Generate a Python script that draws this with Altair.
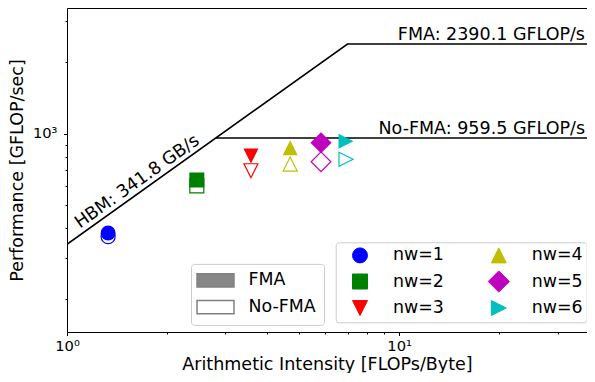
import altair as alt
import pandas as pd

# ---------------- data ----------------
workers = ["nw=1", "nw=2", "nw=3", "nw=4", "nw=5", "nw=6"]
intensity = [1.33, 2.46, 3.58, 4.70, 5.82, 6.92]          # FLOPs/Byte
perf_fma = [381, 638, 805, 873, 916, 930]                  # GFLOP/s
perf_nofma = [368, 603, 698, 745, 762, 780]                # GFLOP/s
colors = ["#0000ff", "#008000", "#ff0000", "#bfbf00", "#bf00bf", "#00bfbf"]

hbm_bw = 341.8          # GB/s
peak_fma = 2390.1       # GFLOP/s
peak_nofma = 959.5      # GFLOP/s
hbm_label_x = 1.694     # where the bandwidth label sits along the slope

x_range = [1, 36.8]
y_range = [145.7, 3392]
x_ticks = [1, 2, 3, 4, 5, 6, 7, 8, 9, 10, 20, 30]
y_ticks = [200, 300, 400, 500, 600, 700, 800, 900, 1000, 2000, 3000]
kinds = ["FMA", "No-FMA"]

# ---------------- styles ----------------
FONT = "DejaVu Sans"
shapes = [
    "circle",
    "M-1,-1H1V1H-1Z",
    "M-1,-1L1,-1L0,1Z",
    "M0,-1L1,1L-1,1Z",
    "M0,-1.41L1.41,0L0,1.41L-1.41,0Z",
    "M-1,-1L1,0L-1,1Z",
]
PATCH = "M-2.64,-0.96H2.64V0.96H-2.64Z"

# ---------------- tables ----------------
pts_fma = pd.DataFrame({"nw": workers, "ai": intensity, "perf": perf_fma})
pts_nofma = pd.DataFrame({"nw": workers, "ai": intensity, "perf": perf_nofma})

ridge_fma = peak_fma / hbm_bw
ridge_nofma = peak_nofma / hbm_bw
roof = pd.DataFrame({
    "roof": ["FMA", "FMA", "FMA", "No-FMA", "No-FMA"],
    "x": [x_range[0], ridge_fma, x_range[1], ridge_nofma, x_range[1]],
    "y": [hbm_bw * x_range[0], peak_fma, peak_fma, peak_nofma, peak_nofma],
})
peaks = pd.DataFrame({
    "x": [x_range[1], x_range[1]],
    "y": [peak_fma, peak_nofma],
    "label": [f"FMA: {peak_fma} GFLOP/s", f"No-FMA: {peak_nofma} GFLOP/s"],
})
bw = pd.DataFrame({"x": [hbm_label_x], "y": [hbm_bw * hbm_label_x],
                   "label": [f"HBM: {hbm_bw} GB/s"]})
kind_df = pd.DataFrame({"kind": kinds})

# ---------------- scales / axes ----------------
xs = alt.Scale(type="log", domain=x_range)
ys = alt.Scale(type="log", domain=y_range)

common_axis = dict(
    domainColor="black", domainWidth=1, tickColor="black", tickWidth=1,
    labelFont=FONT, labelFontSize=14.7, labelColor="black",
    titleFont=FONT, titleFontSize=17.5, titleFontWeight="normal", titleColor="black",
    grid=False, labelOverlap=False, labelFlush=False,
)
x_axis = alt.Axis(
    orient="bottom", values=x_ticks, title="Arithmetic Intensity [FLOPs/Byte]",
    labelExpr="datum.value == 1 ? '10⁰' : (datum.value == 10 ? '10¹' : '')",
    labelPadding=3,
    tickSize={"condition": {"test": "datum.value == 1 || datum.value == 10", "value": 3.5}, "value": 2},
    titleY=37, titleBaseline="alphabetic", **common_axis,
)
y_axis = alt.Axis(
    orient="left", values=y_ticks, title="Performance [GFLOP/sec]",
    labelExpr="datum.value == 1000 ? '10³' : ''",
    labelPadding=6.5,
    tickSize={"condition": {"test": "datum.value == 1000", "value": 3.5}, "value": 2},
    titleX=-50, titleBaseline="middle", **common_axis,
)
top_axis = alt.Axis(orient="top", labels=False, ticks=False, title=None, grid=False,
                    domain=True, domainColor="black", domainWidth=1)

color_legend = alt.Legend(
    title=None, orient="none", legendX=268.7, legendY=234.3, columns=2,
    padding=4, symbolOffset=11.6, labelOffset=24.3, columnPadding=33.8, rowPadding=3.5,
    labelFont=FONT, labelFontSize=17.4, labelColor="black", symbolSize=225,
    fillColor="white", strokeColor="#cccccc", cornerRadius=3, symbolStrokeWidth=1,
)
kind_legend = alt.Legend(
    title=None, orient="none", legendX=124, legendY=255.9,
    padding=7.8, symbolOffset=8, labelOffset=24.3, rowPadding=5.7,
    labelFont=FONT, labelFontSize=17.4, labelColor="black", symbolSize=196,
    symbolType=PATCH, symbolOpacity=1, symbolStrokeColor="#808080", symbolStrokeWidth=1.5,
    fillColor="white", strokeColor="#cccccc", cornerRadius=3,
)

color_enc = alt.Color("nw:N", scale=alt.Scale(domain=workers, range=colors), legend=color_legend)
shape_enc = alt.Shape("nw:N", scale=alt.Scale(domain=workers, range=shapes), legend=color_legend)

lines = alt.Chart(roof).mark_line(color="black", strokeWidth=1.6, clip=True).encode(
    x=alt.X("x:Q", scale=xs, axis=x_axis),
    y=alt.Y("y:Q", scale=ys, axis=y_axis),
    detail="roof:N",
    order="x:Q",
)

open_pts = alt.Chart(pts_nofma).mark_point(filled=False, size=196, strokeWidth=1.2, opacity=1).encode(
    x=alt.X("ai:Q", scale=xs, axis=None),
    y=alt.Y("perf:Q", scale=ys, axis=y_axis),
    color=color_enc, shape=shape_enc,
)
filled_pts = alt.Chart(pts_fma).mark_point(filled=True, size=225, opacity=1).encode(
    x=alt.X("ai:Q", scale=xs, axis=None),
    y=alt.Y("perf:Q", scale=ys, axis=y_axis),
    color=color_enc, shape=shape_enc,
)

peak_text = alt.Chart(peaks).mark_text(
    align="right", baseline="alphabetic", dx=-2, dy=-4, font=FONT, fontSize=17.5, color="black"
).encode(
    x=alt.X("x:Q", scale=xs, axis=top_axis),
    y=alt.Y("y:Q", scale=ys, axis=y_axis),
    text="label:N",
)
bw_text = alt.Chart(bw).mark_text(
    align="center", baseline="alphabetic", dy=-5, angle=324.5, font=FONT, fontSize=17.5, color="black"
).encode(
    x=alt.X("x:Q", scale=xs, axis=None),
    y=alt.Y("y:Q", scale=ys, axis=y_axis),
    text="label:N",
)

kind_key = alt.Chart(kind_df).mark_point(
    shape=PATCH, filled=True, opacity=0, stroke="#808080", strokeWidth=1.5
).encode(
    fill=alt.Fill("kind:N", scale=alt.Scale(domain=kinds, range=["#878787", "white"]), legend=kind_legend),
)

chart = alt.layer(lines, open_pts, filled_pts, peak_text, bw_text, kind_key).resolve_axis(
    x="independent"
).properties(
    width=520, height=324,
    padding={"left": 59, "top": 0, "right": 0, "bottom": 41},
    autosize=alt.AutoSizeParams(type="none"),
).configure_view(stroke=None)

chart.save("out.html", embed_options={"renderer": "svg", "actions": False})
